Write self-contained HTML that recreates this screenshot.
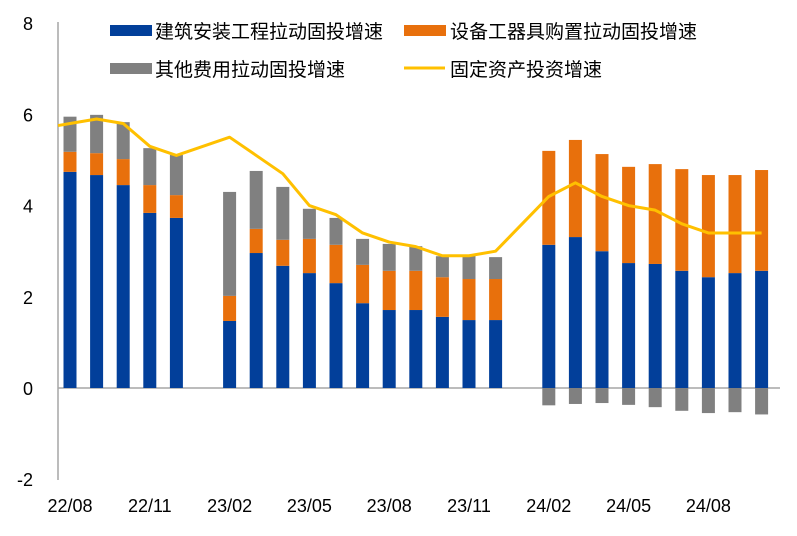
<!DOCTYPE html>
<html><head><meta charset="utf-8"><style>
body{margin:0;background:#fff;}
svg text{font-family:"Liberation Sans","Noto Sans CJK SC",sans-serif;}
</style></head><body>
<svg id="chart" width="797" height="531" xmlns="http://www.w3.org/2000/svg">
<g id="legend">
<rect x="110" y="25" width="42" height="11" fill="#023f9a"/>
<text x="155" y="38" font-size="19" fill="#000">建筑安装工程拉动固投增速</text>
<rect x="404" y="25" width="42" height="11" fill="#e8700c"/>
<text x="450" y="38" font-size="19" fill="#000">设备工器具购置拉动固投增速</text>
<rect x="110" y="63" width="42" height="11" fill="#808080"/>
<text x="155" y="76" font-size="19" fill="#000">其他费用拉动固投增速</text>
<line x1="404" y1="68" x2="445" y2="68" stroke="#ffc000" stroke-width="3"/>
<text x="450" y="76" font-size="19" fill="#000">固定资产投资增速</text>
</g>
</svg>
<script>
const categories=["22/08","22/09","22/10","22/11","22/12","23/01","23/02","23/03","23/04","23/05","23/06","23/07","23/08","23/09","23/10","23/11","23/12","24/01","24/02","24/03","24/04","24/05","24/06","24/07","24/08","24/09","24/10"];
const construction=[4.74,4.67,4.45,3.84,3.73,null,1.47,2.96,2.68,2.52,2.30,1.86,1.71,1.71,1.56,1.49,1.49,null,3.14,3.31,3.00,2.74,2.72,2.57,2.43,2.52,2.57];
const equipment=[0.44,0.48,0.57,0.61,0.50,null,0.55,0.53,0.57,0.75,0.84,0.84,0.86,0.86,0.87,0.90,0.90,null,2.06,2.13,2.13,2.11,2.19,2.23,2.24,2.15,2.21];
const other=[0.77,0.84,0.81,0.81,0.88,null,2.28,1.27,1.16,0.66,0.59,0.57,0.59,0.54,0.46,0.53,0.48,null,-0.38,-0.35,-0.33,-0.37,-0.42,-0.50,-0.55,-0.53,-0.58];
const fai=[5.8,5.9,5.8,5.3,5.1,null,5.5,5.1,4.7,4.0,3.8,3.4,3.2,3.1,2.9,2.9,3.0,null,4.2,4.5,4.2,4.0,3.9,3.6,3.4,3.4,3.4];
const yTicks=[-2,0,2,4,6,8];
const xLabels=["22/08","22/11","23/02","23/05","23/08","23/11","24/02","24/05","24/08"];

const svg=document.getElementById('chart');
const NS="http://www.w3.org/2000/svg";
const y=v=>388-v*45.6;
const x=i=>70+i*26.6;
const bw=13;
function el(t,a){const e=document.createElementNS(NS,t);for(const k in a)e.setAttribute(k,a[k]);svg.appendChild(e);return e;}

const ax=el('line',{x1:58,y1:22,x2:58,y2:480,stroke:'#a6a6a6','stroke-width':1.5});


const zl=el('line',{x1:58,y1:y(0),x2:780,y2:y(0),stroke:'#a6a6a6','stroke-width':1.5});



yTicks.forEach(t=>{
  const tx=el('text',{x:33,y:y(t)+7,'font-size':18,'text-anchor':'end',fill:'#000'});
  tx.textContent=t;
  
  
});

categories.forEach((c,i)=>{
  if(construction[i]===null)return;
  const b=construction[i],e=equipment[i],o=other[i];
  const r1=el('rect',{x:x(i)-bw/2,y:y(b),width:bw,height:y(0)-y(b),fill:'#023f9a'});
  
  
  const r2=el('rect',{x:x(i)-bw/2,y:y(b+e),width:bw,height:y(b)-y(b+e),fill:'#e8700c'});
  
  
  let r3;
  if(o>=0){r3=el('rect',{x:x(i)-bw/2,y:y(b+e+o),width:bw,height:y(b+e)-y(b+e+o),fill:'#808080'});}
  else{r3=el('rect',{x:x(i)-bw/2,y:y(0),width:bw,height:y(o)-y(0),fill:'#808080'});}
  
  
});

const pts=[];
const slope=(fai[1]-fai[0])/(x(1)-x(0));
pts.push('58,'+y(fai[0]-slope*(x(0)-58)));
fai.forEach((v,i)=>{if(v!==null)pts.push(x(i)+','+y(v));});
const ln=el('polyline',{points:pts.join(' '),fill:'none',stroke:'#ffc000','stroke-width':3,'stroke-linejoin':'round'});



xLabels.forEach(l=>{
  const i=categories.indexOf(l);
  const tx=el('text',{x:x(i),y:512,'font-size':18,'text-anchor':'middle',fill:'#000'});
  tx.textContent=l;
  
  
});
</script>
</body></html>
